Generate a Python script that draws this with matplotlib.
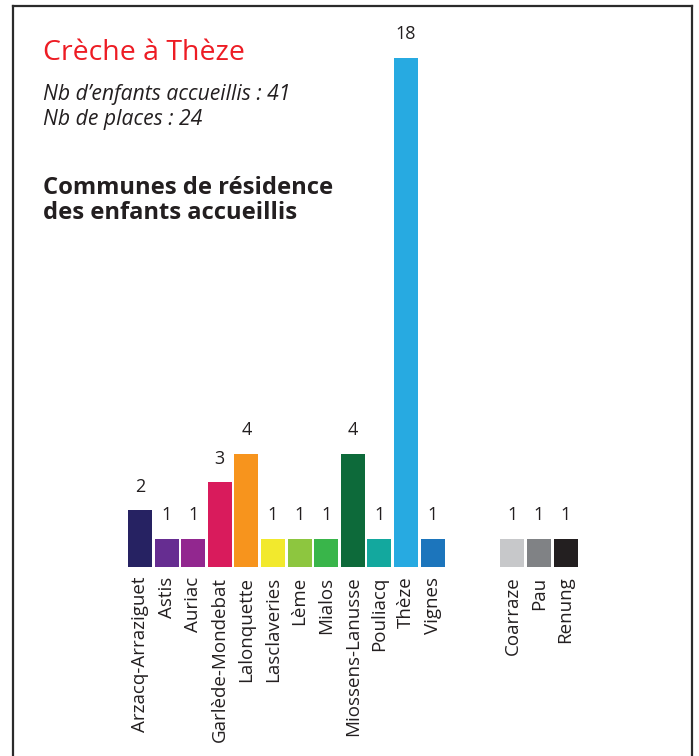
import matplotlib
matplotlib.use("Agg")
import matplotlib.pyplot as plt
from matplotlib.lines import Line2D

communes = ["Arzacq-Arraziguet", "Astis", "Auriac", "Garlède-Mondebat", "Lalonquette",
            "Lasclaveries", "Lème", "Mialos", "Miossens-Lanusse", "Pouliacq", "Thèze",
            "Vignes", "Coarraze", "Pau", "Renung"]
enfants = [2, 1, 1, 3, 4, 1, 1, 1, 4, 1, 18, 1, 1, 1, 1]
positions = [0, 1, 2, 3, 4, 5, 6, 7, 8, 9, 10, 11, 14, 15, 16]
couleurs = ["#262262", "#662d91", "#92278f", "#d91b5c", "#f7941d", "#f2e92d", "#8dc63f",
            "#39b54a", "#0d6a3a", "#13a89e", "#27aae1", "#1c75bc", "#c7c8ca", "#808285",
            "#231f20"]

W, H = 699, 756
plt.rcParams['font.family'] = ['Open Sans', 'DejaVu Sans']
fig = plt.figure(figsize=(W / 100, H / 100), dpi=100)

# axes placed in pixels: bar baseline at y=567, 26.6 px per slot, 28.3 px per child
left, right, top, base = 100, 600, 40, 567
pitch, unit = 26.6, 28.3
ax = fig.add_axes([left / W, (H - base) / H, (right - left) / W, (base - top) / H])
ax.set_xlim((left - 140) / pitch, (right - 140) / pitch)
ax.set_ylim(0, (base - top) / unit)

ax.bar(positions, enfants, width=0.9, color=couleurs)
for x, v in zip(positions, enfants):
    ax.annotate(str(v), (x, v), xytext=(0, 10.5), textcoords="offset points",
                ha="center", va="bottom", fontsize=13, color="#231f20")

ax.set_xticks(positions)
ax.set_xticklabels(communes, rotation=90, fontsize=13.5, color="#231f20")
ax.tick_params(axis="x", length=0, pad=7)
ax.set_yticks([])
for s in ax.spines.values():
    s.set_visible(False)

# titles
fig.text(43 / W, 1 - 60 / H, "Crèche à Thèze", color="#ed1c24", fontsize=20.5, va="baseline")
fig.text(43 / W, 1 - 100 / H, "Nb d\u2019enfants accueillis : 41", fontsize=15.2,
         style="italic", color="#231f20", va="baseline")
fig.text(43 / W, 1 - 125 / H, "Nb de places : 24", fontsize=15.2,
         style="italic", color="#231f20", va="baseline")
fig.text(43 / W, 1 - 194 / H, "Communes de résidence", fontsize=17.1,
         fontweight="bold", color="#231f20", va="baseline")
fig.text(43 / W, 1 - 219 / H, "des enfants accueillis", fontsize=17.1,
         fontweight="bold", color="#231f20", va="baseline")

# frame (open at the bottom)
fx0, fx1, fy0 = 13 / W, 692 / W, 1 - 6 / H
for xs, ys in [([fx0, fx0], [0, fy0]), ([fx0, fx1], [fy0, fy0]), ([fx1, fx1], [fy0, 0])]:
    fig.add_artist(Line2D(xs, ys, color="#2b2b2b", lw=1.6, transform=fig.transFigure))

fig.savefig("out.png", dpi=100)
